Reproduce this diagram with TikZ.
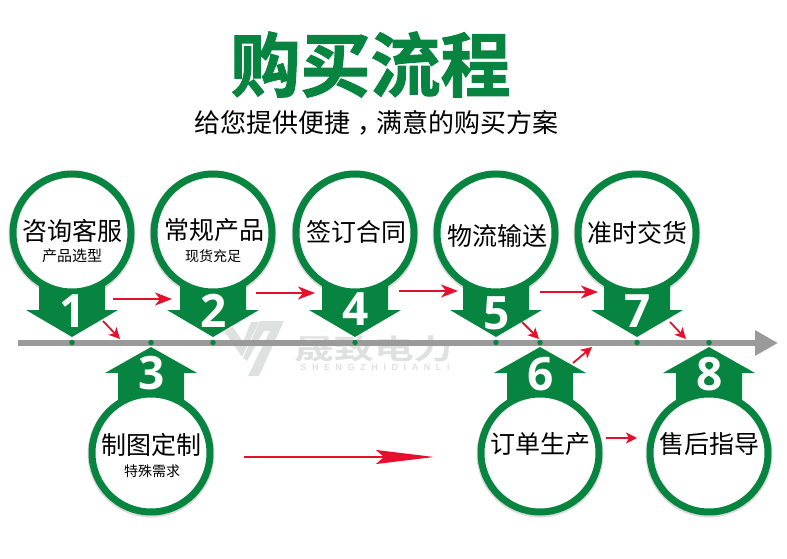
\documentclass[tikz,border=0pt]{standalone}
\usepackage{fontspec}
\usetikzlibrary{arrows.meta}
\newfontfamily\cjk{Noto Sans CJK SC}
\newfontfamily\cjktitle[FakeBold=1.5]{Noto Sans CJK SC Bold}
\newfontfamily\cjkbold{Noto Sans CJK SC Bold}
\newfontfamily\digitfont{Open Sans Bold}
\newfontfamily\wmlatin[LetterSpace=62]{Liberation Sans Bold}
\definecolor{gr}{HTML}{07843F}
\definecolor{rd}{HTML}{E60F2D}
\definecolor{ax}{HTML}{9A9A9A}
\definecolor{wm}{HTML}{DFE0E0}
\tikzset{
  x=1pt,y=-1pt,
  ringnode/.style={circle,draw=gr,line width=7pt,fill=white,minimum size=118pt,inner sep=0pt},
  ringshadow/.style={circle,fill=black!14,minimum size=127pt,inner sep=0pt},
  pointer/.style={fill=gr},
  numeral/.style={text=white,inner sep=0pt,font=\digitfont\fontsize{46}{46}\selectfont},
  mainlabel/.style={inner sep=0pt,text=black,font=\cjk\fontsize{25}{25}\selectfont},
  sublabel/.style={inner sep=0pt,text=black,font=\cjk\fontsize{14}{14}\selectfont},
  tick/.style={circle,fill=gr,minimum size=5.5pt,inner sep=0pt},
  flow/.style={draw=rd,line width=2pt,-{Stealth[length=17pt,width=13pt,inset=5pt]}},
  shortflow/.style={draw=rd,line width=1.8pt,-{Stealth[length=11pt,width=11pt,inset=3pt]}},
  longflow/.style={draw=rd,line width=2pt,-{Stealth[length=58pt,width=14pt,inset=8pt]}},
  axisline/.style={draw=ax,line width=6pt,-{Triangle[length=23pt,width=24pt]}},
  wmshape/.style={fill=wm},
}
\newcommand{\downbadge}[4]{% x, id, digit, digit y
  \node[ringshadow] at (#1,234) {};
  \fill[pointer] (#1-33,275) -- (#1+33,275) -- (#1+33,310) -- (#1+46,310) -- (#1,337) -- (#1-46,310) -- (#1-33,310) -- cycle;
  \node[ringnode] (c#2) at (#1,233) {};
  \node[numeral] (n#2) at (#1+0.7,#4) {#3};
}
\newcommand{\upbadge}[4]{%
  \node[ringshadow] at (#1,454) {};
  \fill[pointer] (#1-33,412) -- (#1+33,412) -- (#1+33,373) -- (#1+46,373) -- (#1,347) -- (#1-46,373) -- (#1-33,373) -- cycle;
  \node[ringnode] (c#2) at (#1,453) {};
  \node[numeral] (n#2) at (#1+0.7,#4) {#3};
}
\begin{document}
\begin{tikzpicture}
\useasboundingbox (0,0) rectangle (787,559);
% watermark
\fill[wmshape] (224,331) -- (233,327) -- (243,342) -- (251,322) -- (259,322) -- (242,357) -- cycle;
\fill[wmshape] (260,321) -- (284,321) -- (259,376) -- (248,376) -- (270,331) -- (264,331) -- (247,361) -- (243,358) -- cycle;
\node[inner sep=0pt,text=wm,xscale=1.42,transform shape,font=\cjkbold\fontsize{28}{28}\selectfont] (wmname) at (374,349) {晟致电力};
\node[inner sep=0pt,text=wm,font=\wmlatin\fontsize{9}{9}\selectfont] (wmsub) at (375,367) {SHENGZHIDIANLI};
% title
\node[inner sep=0pt,text=gr,font=\cjktitle\fontsize{70}{70}\selectfont] (title) at (370.5,64.5) {购买流程};
\node[inner sep=0pt,text=black,font=\cjk\fontsize{26}{26}\selectfont] (subtitle) at (376,123) {给您提供便捷\hspace{8pt}，\hspace{-8pt}满意的购买方案};
% axis
\coordinate (axisstart) at (18,343);
\coordinate (axisend) at (778,343);
\draw[axisline] (axisstart) -- (axisend);
% badges
\downbadge{72}{1}{1}{311}
\downbadge{213}{2}{2}{311}
\downbadge{355}{4}{4}{309}
\downbadge{496}{5}{5}{313}
\downbadge{637}{7}{7}{311}
\upbadge{151}{3}{3}{373}
\upbadge{540}{6}{6}{374}
\upbadge{709}{8}{8}{374}
% ticks
\foreach \tx/\tn in {72/1,151/3,213/2,355/4,496/5,540/6,637/7,709/8}
  \node[tick] (t\tn) at (\tx,342.5) {};
% labels
\node[mainlabel] (l1) at (72,231) {咨询客服};
\node[sublabel,font=\cjk\fontsize{15}{15}\selectfont] (s1) at (72,256) {产品选型};
\node[mainlabel] (l2) at (214,230) {常规产品};
\node[sublabel] (s2) at (213,256) {现货充足};
\node[mainlabel] (l4) at (356,232) {签订合同};
\node[mainlabel] (l5) at (497,236) {物流输送};
\node[mainlabel] (l7) at (637,233) {准时交货};
\node[mainlabel] (l3) at (151,445) {制图定制};
\node[sublabel] (s3) at (152,471) {特殊需求};
\node[mainlabel] (l6) at (540,444) {订单生产};
\node[mainlabel] (l8) at (709,444) {售后指导};
% connectors
\coordinate (a1) at (113,299); \coordinate (a2) at (172,299);
\coordinate (b1) at (103,321); \coordinate (b2) at (120,339);
\coordinate (d1) at (256,293); \coordinate (d2) at (315,293);
\coordinate (e1) at (399,291); \coordinate (e2) at (458,291);
\coordinate (f1) at (522,322); \coordinate (f2) at (539,339);
\coordinate (g1) at (540,292); \coordinate (g2) at (598,292);
\coordinate (h1) at (573,363); \coordinate (h2) at (592,347);
\coordinate (i1) at (670,322); \coordinate (i2) at (686,339);
\coordinate (j1) at (606,438); \coordinate (j2) at (637,438);
\coordinate (k1) at (244,457); \coordinate (k2) at (434,457);
\foreach \p in {a,d,e,g}
  \draw[flow] (\p1) -- (\p2);
\foreach \p in {b,f,h,i,j}
  \draw[shortflow] (\p1) -- (\p2);
\draw[longflow] (k1) -- (k2);
\end{tikzpicture}
\end{document}
